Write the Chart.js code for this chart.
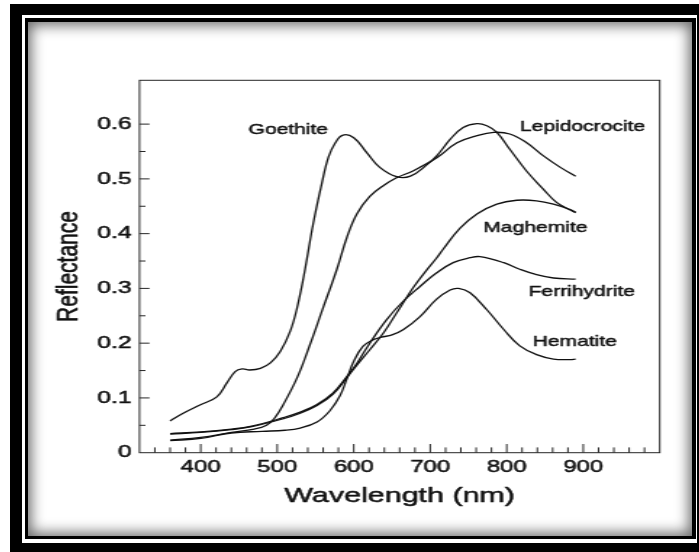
<!DOCTYPE html>
<html>
<head>
<meta charset="utf-8">
<title>Reflectance spectra of iron oxides</title>
<script src="https://cdn.jsdelivr.net/npm/chart.js@4.4.1/dist/chart.umd.min.js"></script>
<style>
  html, body { margin: 0; padding: 0; background: #fff; width: 699px; height: 552px; overflow: hidden; }
  #outer { position: absolute; left: 10px; top: 4px; width: 720px; height: 580px; background: #000; }
  #gap   { position: absolute; left: 22px; top: 15px; width: 675px; height: 528px; background: #fff; }
  #inner { position: absolute; left: 25px; top: 18px; width: 671px; height: 521px; background: #000; }
  #panel { position: absolute; left: 28px; top: 21.5px; width: 664px; height: 514px; background: #fff;
           box-shadow: inset 0 0 14px 3px rgba(0,0,0,0.6); }
  #chart { position: absolute; left: 28px; top: 25px; width: 450px; height: 510px;
           transform: scaleX(1.45); transform-origin: 0 0; }
</style>
</head>
<body>
<div id="outer"></div>
<div id="gap"></div>
<div id="inner"></div>
<div id="panel"></div>
<canvas id="chart" width="450" height="510"></canvas>
<script>
// Tick labels
const wavelengthTicks = [400, 500, 600, 700, 800, 900];
const reflectanceTicks = [0, 0.1, 0.2, 0.3, 0.4, 0.5, 0.6];
const reflectanceTickText = ['0', '0.1', '0.2', '0.3', '0.4', '0.5', '0.6'];

// Axis titles
const xTitle = 'Wavelength (nm)';
const yTitle = 'Reflectance';

// Spectra: wavelength (nm) and reflectance
const goethiteNm = [360, 377, 399, 421, 434, 445, 454, 464, 478, 491, 504, 517, 526, 536, 547, 558, 567, 576, 586, 600, 617, 634, 656, 674, 695, 709, 726, 743, 761, 774, 787, 804, 826, 848, 865, 883, 890];
const goethiteR  = [0.058, 0.072, 0.087, 0.102, 0.127, 0.148, 0.153, 0.151, 0.154, 0.164, 0.185, 0.222, 0.265, 0.332, 0.418, 0.490, 0.540, 0.566, 0.580, 0.575, 0.548, 0.521, 0.504, 0.505, 0.525, 0.543, 0.572, 0.594, 0.601, 0.597, 0.585, 0.554, 0.514, 0.481, 0.457, 0.443, 0.438];

const lepidocrociteNm = [360, 400, 440, 470, 486, 497, 508, 526, 543, 560, 578, 591, 604, 621, 639, 656, 678, 709, 735, 761, 783, 804, 826, 848, 870, 890];
const lepidocrociteR  = [0.023, 0.028, 0.037, 0.043, 0.050, 0.064, 0.088, 0.137, 0.198, 0.265, 0.335, 0.393, 0.436, 0.468, 0.488, 0.502, 0.515, 0.539, 0.566, 0.579, 0.585, 0.582, 0.566, 0.542, 0.521, 0.505];

const maghemiteNm = [360, 400, 440, 465, 508, 530, 552, 573, 591, 604, 621, 639, 656, 678, 695, 708, 717, 739, 761, 787, 813, 839, 861, 883, 890];
const maghemiteR  = [0.034, 0.037, 0.042, 0.047, 0.062, 0.072, 0.086, 0.107, 0.137, 0.160, 0.188, 0.219, 0.255, 0.302, 0.333, 0.355, 0.372, 0.410, 0.436, 0.454, 0.461, 0.460, 0.454, 0.444, 0.439];

const ferrihydriteNm = [360, 400, 440, 465, 508, 530, 552, 573, 591, 604, 621, 643, 665, 687, 708, 730, 752, 765, 796, 817, 839, 861, 890];
const ferrihydriteR  = [0.035, 0.038, 0.043, 0.048, 0.064, 0.074, 0.088, 0.109, 0.139, 0.163, 0.200, 0.243, 0.277, 0.304, 0.328, 0.347, 0.356, 0.358, 0.347, 0.335, 0.325, 0.319, 0.317];

const hematiteNm = [360, 400, 440, 480, 510, 530, 552, 569, 582, 591, 600, 612, 625, 636, 650, 665, 687, 708, 726, 737, 752, 774, 796, 817, 839, 861, 883, 890];
const hematiteR  = [0.022, 0.026, 0.036, 0.039, 0.041, 0.045, 0.056, 0.077, 0.104, 0.135, 0.167, 0.194, 0.206, 0.211, 0.215, 0.225, 0.249, 0.280, 0.297, 0.300, 0.292, 0.261, 0.225, 0.195, 0.179, 0.171, 0.170, 0.171];

// Curve names and where each name sits (wavelength, reflectance)
const curveNames = ['Goethite', 'Lepidocrocite', 'Maghemite', 'Ferrihydrite', 'Hematite'];
const nameAtNm = [514.5, 899, 837.4, 898, 888.9];
const nameAtR  = [0.589, 0.594, 0.410, 0.294, 0.202];

const FONT = "'Liberation Sans', Arial, Helvetica, sans-serif";
const INK = '#111';

function pairs(xs, ys) { return xs.map((x, i) => ({ x: x, y: ys[i] })); }

const series = [
  pairs(goethiteNm, goethiteR),
  pairs(lepidocrociteNm, lepidocrociteR),
  pairs(maghemiteNm, maghemiteR),
  pairs(ferrihydriteNm, ferrihydriteR),
  pairs(hematiteNm, hematiteR)
];

function inkText(ctx, text, x, y) {
  ctx.strokeText(text, x, y);
  ctx.fillText(text, x, y);
}

// Box around the plot and inward-pointing major/minor tick marks
const frameAndTicks = {
  id: 'frameAndTicks',
  afterDraw(chart) {
    const { ctx, chartArea: a, scales: { x, y } } = chart;
    ctx.save();
    ctx.strokeStyle = '#262626';
    ctx.lineWidth = 1;
    ctx.strokeRect(a.left, a.top, a.right - a.left, a.bottom - a.top);
    ctx.beginPath();
    x.ticks.forEach(t => {
      const v = t.value;
      if (v <= x.min || v >= x.max) return;
      const px = x.getPixelForValue(v);
      const len = (Math.round(v) % 100 === 0) ? 8.7 : 5.3;
      ctx.moveTo(px, a.bottom);
      ctx.lineTo(px, a.bottom - len);
    });
    y.ticks.forEach(t => {
      const v = t.value;
      if (v <= y.min || v >= y.max) return;
      const py = y.getPixelForValue(v);
      const major = Math.abs(v * 10 - Math.round(v * 10)) < 1e-6;
      const len = major ? 6.9 : 4.1;
      ctx.moveTo(a.left, py);
      ctx.lineTo(a.left + len, py);
    });
    ctx.stroke();
    ctx.restore();
  }
};

// Axis titles and the names written beside the curves
const textLayer = {
  id: 'textLayer',
  afterDatasetsDraw(chart) {
    const { ctx, chartArea: a, scales: { x, y } } = chart;
    ctx.save();
    ctx.fillStyle = INK;
    ctx.strokeStyle = INK;
    ctx.lineJoin = 'round';
    ctx.textAlign = 'center';
    ctx.textBaseline = 'middle';

    ctx.lineWidth = 0.45;
    ctx.font = '14.5px ' + FONT;
    curveNames.forEach((name, i) => {
      inkText(ctx, name, x.getPixelForValue(nameAtNm[i]), y.getPixelForValue(nameAtR[i]));
    });

    ctx.lineWidth = 0.5;
    ctx.font = '21px ' + FONT;
    inkText(ctx, xTitle, (a.left + a.right) / 2, x.bottom - 38.3);

    ctx.translate(y.left + 27.9, (a.top + a.bottom) / 2);
    ctx.rotate(-Math.PI / 2);
    inkText(ctx, yTitle, 0, 0);
    ctx.restore();
  }
};

new Chart(document.getElementById('chart'), {
  type: 'line',
  data: {
    datasets: series.map((pts, i) => ({
      label: curveNames[i],
      data: pts,
      borderColor: INK,
      borderWidth: 1.3,
      pointRadius: 0,
      fill: false,
      tension: 0.4
    }))
  },
  options: {
    responsive: false,
    animation: false,
    devicePixelRatio: 1,
    layout: { padding: { left: 0, right: 14.3, top: 55.3, bottom: 0 } },
    plugins: { legend: { display: false }, tooltip: { enabled: false } },
    scales: {
      x: {
        type: 'linear',
        min: 320,
        max: 1000,
        grid: { display: false, drawTicks: false },
        border: { display: false },
        ticks: {
          stepSize: 20,
          autoSkip: false,
          maxRotation: 0,
          padding: 4.9,
          color: INK,
          textStrokeColor: INK,
          textStrokeWidth: 0.5,
          font: { family: FONT, size: 16.5 },
          callback: v => wavelengthTicks.includes(Math.round(v)) ? String(Math.round(v)) : ''
        },
        afterFit: s => { s.height = 82.3; }
      },
      y: {
        type: 'linear',
        min: 0,
        max: 0.68,
        grid: { display: false, drawTicks: false },
        border: { display: false },
        ticks: {
          stepSize: 0.05,
          autoSkip: false,
          padding: 5.4,
          color: INK,
          textStrokeColor: INK,
          textStrokeWidth: 0.5,
          font: { family: FONT, size: 17 },
          callback: v => {
            const i = reflectanceTicks.findIndex(t => Math.abs(t - v) < 1e-6);
            return i >= 0 ? reflectanceTickText[i] : '';
          }
        },
        afterFit: s => { s.width = 76.9; }
      }
    }
  },
  plugins: [frameAndTicks, textLayer]
});
</script>
</body>
</html>
